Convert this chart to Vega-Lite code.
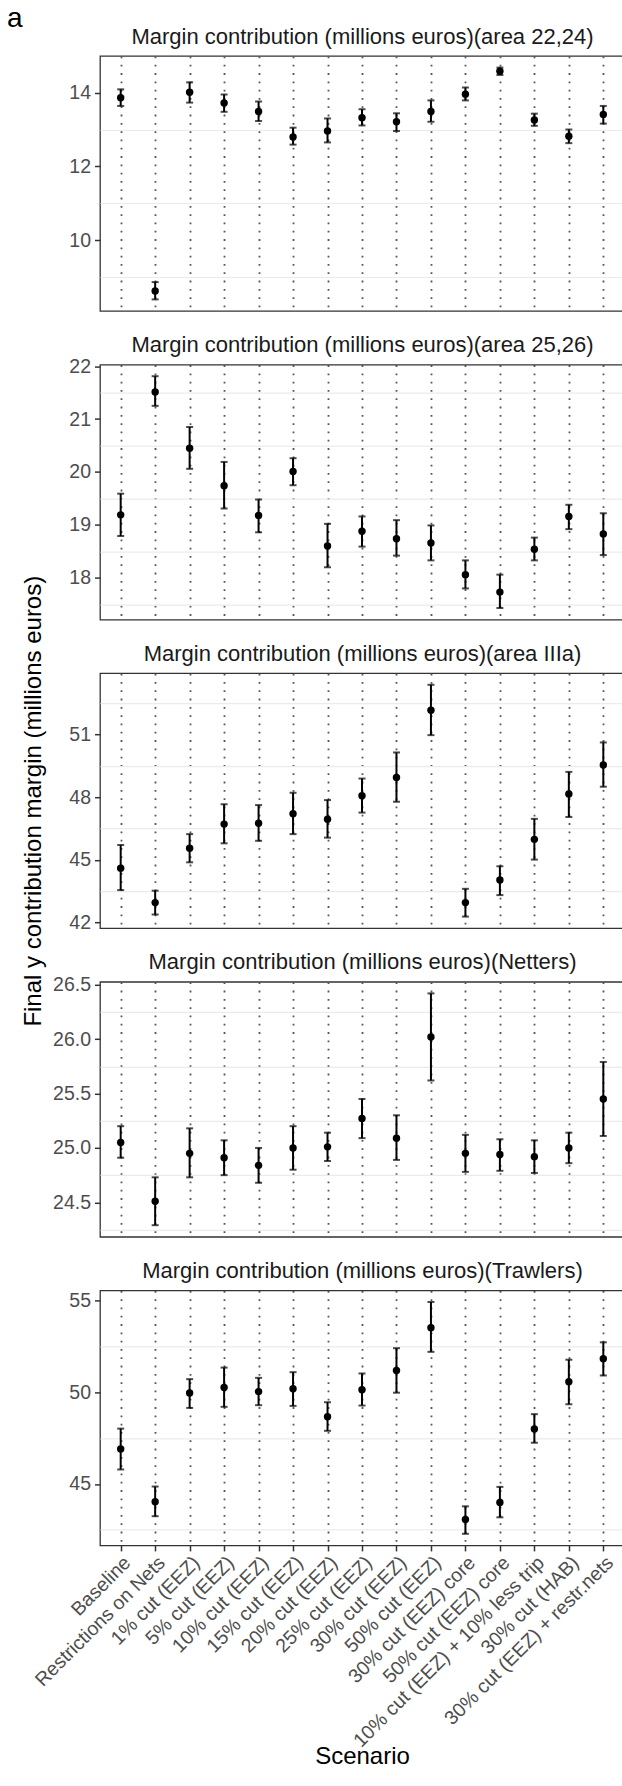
{
  "$schema": "https://vega.github.io/schema/vega-lite/v6.json",
  "padding": {"left": 7, "top": 4, "right": 0, "bottom": 0},
  "bounds": "flush",
  "spacing": 53.6,
  "title": {"text": "a", "anchor": "start", "frame": "bounds", "fontSize": 28, "color": "black", "fontWeight": "normal", "offset": -8.5, "dx": -13.5},
  "config": {
    "font": "Liberation Sans",
    "view": {"stroke": "#333333", "strokeWidth": 1.3},
    "axis": {"labelFont": "Liberation Sans", "labelFontSize": 19.5, "labelColor": "#4d4d4d", "tickColor": "#333333", "tickSize": 5.5, "tickWidth": 1.5, "domain": false, "gridColor": "#555555", "gridDash": [1.8, 6.5], "gridWidth": 1.8, "gridOpacity": 1, "labelPadding": 4, "labelLimit": 400, "titleFont": "Liberation Sans", "titleFontSize": 24, "titleFontWeight": "normal", "titleColor": "black"},
    "axisTop": {"labels": false, "ticks": false, "grid": false, "domain": false, "tickSize": 0, "labelPadding": 0, "titleFontSize": 22, "titleColor": "#1a1a1a", "titlePadding": 8},
    "title": {"font": "Liberation Sans", "fontSize": 22, "fontWeight": "normal", "color": "#1a1a1a"}
  },
  "datasets": {
    "p1": [
      {"scenario": "Baseline", "value": 13.86, "lower": 13.64, "upper": 14.09},
      {"scenario": "Restrictions on Nets", "value": 8.62, "lower": 8.39, "upper": 8.86},
      {"scenario": "1% cut (EEZ)", "value": 14.01, "lower": 13.73, "upper": 14.28},
      {"scenario": "5% cut (EEZ)", "value": 13.72, "lower": 13.48, "upper": 13.95},
      {"scenario": "10% cut (EEZ)", "value": 13.49, "lower": 13.23, "upper": 13.76},
      {"scenario": "15% cut (EEZ)", "value": 12.80, "lower": 12.59, "upper": 13.05},
      {"scenario": "20% cut (EEZ)", "value": 12.96, "lower": 12.65, "upper": 13.30},
      {"scenario": "25% cut (EEZ)", "value": 13.32, "lower": 13.11, "upper": 13.55},
      {"scenario": "30% cut (EEZ)", "value": 13.21, "lower": 12.96, "upper": 13.44},
      {"scenario": "50% cut (EEZ)", "value": 13.49, "lower": 13.21, "upper": 13.79},
      {"scenario": "30% cut (EEZ) core", "value": 13.96, "lower": 13.79, "upper": 14.14},
      {"scenario": "50% cut (EEZ) core", "value": 14.58, "lower": 14.48, "upper": 14.68},
      {"scenario": "10% cut (EEZ) + 10% less trip", "value": 13.26, "lower": 13.10, "upper": 13.43},
      {"scenario": "30% cut (HAB)", "value": 12.82, "lower": 12.63, "upper": 13.00},
      {"scenario": "30% cut (EEZ) + restr.nets", "value": 13.41, "lower": 13.16, "upper": 13.64}
    ],
    "p2": [
      {"scenario": "Baseline", "value": 19.19, "lower": 18.79, "upper": 19.59},
      {"scenario": "Restrictions on Nets", "value": 21.51, "lower": 21.25, "upper": 21.81},
      {"scenario": "1% cut (EEZ)", "value": 20.45, "lower": 20.06, "upper": 20.85},
      {"scenario": "5% cut (EEZ)", "value": 19.74, "lower": 19.31, "upper": 20.19},
      {"scenario": "10% cut (EEZ)", "value": 19.18, "lower": 18.86, "upper": 19.48},
      {"scenario": "15% cut (EEZ)", "value": 20.01, "lower": 19.75, "upper": 20.26},
      {"scenario": "20% cut (EEZ)", "value": 18.60, "lower": 18.20, "upper": 19.02},
      {"scenario": "25% cut (EEZ)", "value": 18.88, "lower": 18.59, "upper": 19.16},
      {"scenario": "30% cut (EEZ)", "value": 18.74, "lower": 18.42, "upper": 19.09},
      {"scenario": "50% cut (EEZ)", "value": 18.66, "lower": 18.33, "upper": 18.99},
      {"scenario": "30% cut (EEZ) core", "value": 18.06, "lower": 17.80, "upper": 18.33},
      {"scenario": "50% cut (EEZ) core", "value": 17.73, "lower": 17.43, "upper": 18.06},
      {"scenario": "10% cut (EEZ) + 10% less trip", "value": 18.54, "lower": 18.33, "upper": 18.76},
      {"scenario": "30% cut (HAB)", "value": 19.16, "lower": 18.92, "upper": 19.38},
      {"scenario": "30% cut (EEZ) + restr.nets", "value": 18.83, "lower": 18.43, "upper": 19.22}
    ],
    "p3": [
      {"scenario": "Baseline", "value": 44.60, "lower": 43.55, "upper": 45.71},
      {"scenario": "Restrictions on Nets", "value": 42.95, "lower": 42.38, "upper": 43.52},
      {"scenario": "1% cut (EEZ)", "value": 45.55, "lower": 44.88, "upper": 46.23},
      {"scenario": "5% cut (EEZ)", "value": 46.71, "lower": 45.79, "upper": 47.66},
      {"scenario": "10% cut (EEZ)", "value": 46.75, "lower": 45.91, "upper": 47.62},
      {"scenario": "15% cut (EEZ)", "value": 47.21, "lower": 46.23, "upper": 48.21},
      {"scenario": "20% cut (EEZ)", "value": 46.94, "lower": 46.06, "upper": 47.86},
      {"scenario": "25% cut (EEZ)", "value": 48.07, "lower": 47.26, "upper": 48.89},
      {"scenario": "30% cut (EEZ)", "value": 48.94, "lower": 47.78, "upper": 50.14},
      {"scenario": "50% cut (EEZ)", "value": 52.16, "lower": 50.97, "upper": 53.38},
      {"scenario": "30% cut (EEZ) core", "value": 42.95, "lower": 42.28, "upper": 43.61},
      {"scenario": "50% cut (EEZ) core", "value": 44.03, "lower": 43.31, "upper": 44.69},
      {"scenario": "10% cut (EEZ) + 10% less trip", "value": 45.98, "lower": 45.01, "upper": 46.96},
      {"scenario": "30% cut (HAB)", "value": 48.15, "lower": 47.05, "upper": 49.21},
      {"scenario": "30% cut (EEZ) + restr.nets", "value": 49.54, "lower": 48.50, "upper": 50.62}
    ],
    "p4": [
      {"scenario": "Baseline", "value": 25.05, "lower": 24.91, "upper": 25.20},
      {"scenario": "Restrictions on Nets", "value": 24.51, "lower": 24.29, "upper": 24.73},
      {"scenario": "1% cut (EEZ)", "value": 24.95, "lower": 24.73, "upper": 25.18},
      {"scenario": "5% cut (EEZ)", "value": 24.91, "lower": 24.75, "upper": 25.07},
      {"scenario": "10% cut (EEZ)", "value": 24.84, "lower": 24.68, "upper": 25.00},
      {"scenario": "15% cut (EEZ)", "value": 25.00, "lower": 24.80, "upper": 25.20},
      {"scenario": "20% cut (EEZ)", "value": 25.01, "lower": 24.88, "upper": 25.14},
      {"scenario": "25% cut (EEZ)", "value": 25.27, "lower": 25.09, "upper": 25.45},
      {"scenario": "30% cut (EEZ)", "value": 25.09, "lower": 24.89, "upper": 25.30},
      {"scenario": "50% cut (EEZ)", "value": 26.02, "lower": 25.62, "upper": 26.42},
      {"scenario": "30% cut (EEZ) core", "value": 24.95, "lower": 24.78, "upper": 25.12},
      {"scenario": "50% cut (EEZ) core", "value": 24.94, "lower": 24.79, "upper": 25.08},
      {"scenario": "10% cut (EEZ) + 10% less trip", "value": 24.92, "lower": 24.77, "upper": 25.07},
      {"scenario": "30% cut (HAB)", "value": 25.00, "lower": 24.86, "upper": 25.14},
      {"scenario": "30% cut (EEZ) + restr.nets", "value": 25.45, "lower": 25.11, "upper": 25.79}
    ],
    "p5": [
      {"scenario": "Baseline", "value": 46.91, "lower": 45.79, "upper": 48.02},
      {"scenario": "Restrictions on Nets", "value": 44.03, "lower": 43.24, "upper": 44.86},
      {"scenario": "1% cut (EEZ)", "value": 49.96, "lower": 49.15, "upper": 50.72},
      {"scenario": "5% cut (EEZ)", "value": 50.27, "lower": 49.21, "upper": 51.35},
      {"scenario": "10% cut (EEZ)", "value": 50.04, "lower": 49.30, "upper": 50.79},
      {"scenario": "15% cut (EEZ)", "value": 50.20, "lower": 49.26, "upper": 51.10},
      {"scenario": "20% cut (EEZ)", "value": 48.67, "lower": 47.90, "upper": 49.46},
      {"scenario": "25% cut (EEZ)", "value": 50.14, "lower": 49.28, "upper": 51.03},
      {"scenario": "30% cut (EEZ)", "value": 51.19, "lower": 49.98, "upper": 52.41},
      {"scenario": "50% cut (EEZ)", "value": 53.53, "lower": 52.21, "upper": 54.93},
      {"scenario": "30% cut (EEZ) core", "value": 43.06, "lower": 42.28, "upper": 43.78},
      {"scenario": "50% cut (EEZ) core", "value": 43.99, "lower": 43.18, "upper": 44.84},
      {"scenario": "10% cut (EEZ) + 10% less trip", "value": 48.00, "lower": 47.25, "upper": 48.81},
      {"scenario": "30% cut (HAB)", "value": 50.58, "lower": 49.35, "upper": 51.78},
      {"scenario": "30% cut (EEZ) + restr.nets", "value": 51.83, "lower": 50.92, "upper": 52.73}
    ]
  },
  "vconcat": [
    {
      "width": 524, "height": 255,
      "data": {"name": "p1"},
      "resolve": {"axis": {"x": "independent", "y": "independent"}},
      "layer": [
        {
          "mark": {"type": "errorbar", "ticks": true, "size": 7, "thickness": 2, "color": "black"},
          "encoding": {
            "x": {"field": "scenario", "type": "nominal", "sort": ["Baseline","Restrictions on Nets","1% cut (EEZ)","5% cut (EEZ)","10% cut (EEZ)","15% cut (EEZ)","20% cut (EEZ)","25% cut (EEZ)","30% cut (EEZ)","50% cut (EEZ)","30% cut (EEZ) core","50% cut (EEZ) core","10% cut (EEZ) + 10% less trip","30% cut (HAB)","30% cut (EEZ) + restr.nets"], "scale": {"type": "point", "padding": 0.6}, "axis": {"orient": "bottom", "title": null, "labels": false, "ticks": false, "grid": true}},
            "y": {"field": "lower", "type": "quantitative", "scale": {"zero": false, "nice": false, "padding": 11.6}, "axis": {"orient": "left", "values": [9, 11, 13], "grid": true, "gridColor": "#ebebeb", "gridDash": [], "gridWidth": 1.2, "ticks": false, "labels": false, "title": null}},
            "y2": {"field": "upper"}
          }
        },
        {
          "mark": {"type": "point", "filled": true, "size": 55, "color": "black", "opacity": 1},
          "encoding": {
            "x": {"field": "scenario", "type": "nominal", "sort": ["Baseline","Restrictions on Nets","1% cut (EEZ)","5% cut (EEZ)","10% cut (EEZ)","15% cut (EEZ)","20% cut (EEZ)","25% cut (EEZ)","30% cut (EEZ)","50% cut (EEZ)","30% cut (EEZ) core","50% cut (EEZ) core","10% cut (EEZ) + 10% less trip","30% cut (HAB)","30% cut (EEZ) + restr.nets"], "axis": {"orient": "top", "title": "Margin contribution (millions euros)(area 22,24)"}},
            "y": {"field": "value", "type": "quantitative", "axis": {"orient": "left", "values": [10, 12, 14], "title": null}}
          }
        }
      ]
    },
    {
      "width": 524, "height": 255,
      "data": {"name": "p2"},
      "resolve": {"axis": {"x": "independent", "y": "independent"}},
      "layer": [
        {
          "mark": {"type": "errorbar", "ticks": true, "size": 7, "thickness": 2, "color": "black"},
          "encoding": {
            "x": {"field": "scenario", "type": "nominal", "sort": ["Baseline","Restrictions on Nets","1% cut (EEZ)","5% cut (EEZ)","10% cut (EEZ)","15% cut (EEZ)","20% cut (EEZ)","25% cut (EEZ)","30% cut (EEZ)","50% cut (EEZ)","30% cut (EEZ) core","50% cut (EEZ) core","10% cut (EEZ) + 10% less trip","30% cut (HAB)","30% cut (EEZ) + restr.nets"], "scale": {"type": "point", "padding": 0.6}, "axis": {"orient": "bottom", "title": null, "labels": false, "ticks": false, "grid": true}},
            "y": {"field": "lower", "type": "quantitative", "scale": {"zero": false, "nice": false, "padding": 11.6}, "axis": {"orient": "left", "values": [17.5, 18.5, 19.5, 20.5, 21.5], "grid": true, "gridColor": "#ebebeb", "gridDash": [], "gridWidth": 1.2, "ticks": false, "labels": false, "title": null}},
            "y2": {"field": "upper"}
          }
        },
        {
          "mark": {"type": "point", "filled": true, "size": 55, "color": "black", "opacity": 1},
          "encoding": {
            "x": {"field": "scenario", "type": "nominal", "sort": ["Baseline","Restrictions on Nets","1% cut (EEZ)","5% cut (EEZ)","10% cut (EEZ)","15% cut (EEZ)","20% cut (EEZ)","25% cut (EEZ)","30% cut (EEZ)","50% cut (EEZ)","30% cut (EEZ) core","50% cut (EEZ) core","10% cut (EEZ) + 10% less trip","30% cut (HAB)","30% cut (EEZ) + restr.nets"], "axis": {"orient": "top", "title": "Margin contribution (millions euros)(area 25,26)"}},
            "y": {"field": "value", "type": "quantitative", "axis": {"orient": "left", "values": [18, 19, 20, 21, 22], "title": null}}
          }
        }
      ]
    },
    {
      "width": 524, "height": 255,
      "data": {"name": "p3"},
      "resolve": {"axis": {"x": "independent", "y": "independent"}},
      "layer": [
        {
          "mark": {"type": "errorbar", "ticks": true, "size": 7, "thickness": 2, "color": "black"},
          "encoding": {
            "x": {"field": "scenario", "type": "nominal", "sort": ["Baseline","Restrictions on Nets","1% cut (EEZ)","5% cut (EEZ)","10% cut (EEZ)","15% cut (EEZ)","20% cut (EEZ)","25% cut (EEZ)","30% cut (EEZ)","50% cut (EEZ)","30% cut (EEZ) core","50% cut (EEZ) core","10% cut (EEZ) + 10% less trip","30% cut (HAB)","30% cut (EEZ) + restr.nets"], "scale": {"type": "point", "padding": 0.6}, "axis": {"orient": "bottom", "title": null, "labels": false, "ticks": false, "grid": true}},
            "y": {"field": "lower", "type": "quantitative", "scale": {"zero": false, "nice": false, "padding": 11.6}, "axis": {"orient": "left", "values": [43.5, 46.5, 49.5, 52.5], "grid": true, "gridColor": "#ebebeb", "gridDash": [], "gridWidth": 1.2, "ticks": false, "labels": false, "title": null}},
            "y2": {"field": "upper"}
          }
        },
        {
          "mark": {"type": "point", "filled": true, "size": 55, "color": "black", "opacity": 1},
          "encoding": {
            "x": {"field": "scenario", "type": "nominal", "sort": ["Baseline","Restrictions on Nets","1% cut (EEZ)","5% cut (EEZ)","10% cut (EEZ)","15% cut (EEZ)","20% cut (EEZ)","25% cut (EEZ)","30% cut (EEZ)","50% cut (EEZ)","30% cut (EEZ) core","50% cut (EEZ) core","10% cut (EEZ) + 10% less trip","30% cut (HAB)","30% cut (EEZ) + restr.nets"], "axis": {"orient": "top", "title": "Margin contribution (millions euros)(area IIIa)"}},
            "y": {"field": "value", "type": "quantitative", "axis": {"orient": "left", "values": [42, 45, 48, 51], "title": "Final y contribution margin (millions euros)", "titlePadding": 23.6}}
          }
        }
      ]
    },
    {
      "width": 524, "height": 255,
      "data": {"name": "p4"},
      "resolve": {"axis": {"x": "independent", "y": "independent"}},
      "layer": [
        {
          "mark": {"type": "errorbar", "ticks": true, "size": 7, "thickness": 2, "color": "black"},
          "encoding": {
            "x": {"field": "scenario", "type": "nominal", "sort": ["Baseline","Restrictions on Nets","1% cut (EEZ)","5% cut (EEZ)","10% cut (EEZ)","15% cut (EEZ)","20% cut (EEZ)","25% cut (EEZ)","30% cut (EEZ)","50% cut (EEZ)","30% cut (EEZ) core","50% cut (EEZ) core","10% cut (EEZ) + 10% less trip","30% cut (HAB)","30% cut (EEZ) + restr.nets"], "scale": {"type": "point", "padding": 0.6}, "axis": {"orient": "bottom", "title": null, "labels": false, "ticks": false, "grid": true}},
            "y": {"field": "lower", "type": "quantitative", "scale": {"zero": false, "nice": false, "padding": 11.6}, "axis": {"orient": "left", "values": [24.25, 24.75, 25.25, 25.75, 26.25], "grid": true, "gridColor": "#ebebeb", "gridDash": [], "gridWidth": 1.2, "ticks": false, "labels": false, "title": null}},
            "y2": {"field": "upper"}
          }
        },
        {
          "mark": {"type": "point", "filled": true, "size": 55, "color": "black", "opacity": 1},
          "encoding": {
            "x": {"field": "scenario", "type": "nominal", "sort": ["Baseline","Restrictions on Nets","1% cut (EEZ)","5% cut (EEZ)","10% cut (EEZ)","15% cut (EEZ)","20% cut (EEZ)","25% cut (EEZ)","30% cut (EEZ)","50% cut (EEZ)","30% cut (EEZ) core","50% cut (EEZ) core","10% cut (EEZ) + 10% less trip","30% cut (HAB)","30% cut (EEZ) + restr.nets"], "axis": {"orient": "top", "title": "Margin contribution (millions euros)(Netters)"}},
            "y": {"field": "value", "type": "quantitative", "axis": {"orient": "left", "values": [24.5, 25, 25.5, 26, 26.5], "format": ".1f", "title": null}}
          }
        }
      ]
    },
    {
      "width": 524, "height": 255,
      "data": {"name": "p5"},
      "resolve": {"axis": {"x": "independent", "y": "independent"}},
      "layer": [
        {
          "mark": {"type": "errorbar", "ticks": true, "size": 7, "thickness": 2, "color": "black"},
          "encoding": {
            "x": {"field": "scenario", "type": "nominal", "sort": ["Baseline","Restrictions on Nets","1% cut (EEZ)","5% cut (EEZ)","10% cut (EEZ)","15% cut (EEZ)","20% cut (EEZ)","25% cut (EEZ)","30% cut (EEZ)","50% cut (EEZ)","30% cut (EEZ) core","50% cut (EEZ) core","10% cut (EEZ) + 10% less trip","30% cut (HAB)","30% cut (EEZ) + restr.nets"], "scale": {"type": "point", "padding": 0.6}, "axis": {"orient": "bottom", "title": "Scenario", "labelAngle": -45, "labelAlign": "right", "labelBaseline": "top", "labelFontSize": 19.5, "labelPadding": 2, "grid": true, "titlePadding": -1}},
            "y": {"field": "lower", "type": "quantitative", "scale": {"zero": false, "nice": false, "padding": 11.6}, "axis": {"orient": "left", "values": [42.5, 47.5, 52.5], "grid": true, "gridColor": "#ebebeb", "gridDash": [], "gridWidth": 1.2, "ticks": false, "labels": false, "title": null}},
            "y2": {"field": "upper"}
          }
        },
        {
          "mark": {"type": "point", "filled": true, "size": 55, "color": "black", "opacity": 1},
          "encoding": {
            "x": {"field": "scenario", "type": "nominal", "sort": ["Baseline","Restrictions on Nets","1% cut (EEZ)","5% cut (EEZ)","10% cut (EEZ)","15% cut (EEZ)","20% cut (EEZ)","25% cut (EEZ)","30% cut (EEZ)","50% cut (EEZ)","30% cut (EEZ) core","50% cut (EEZ) core","10% cut (EEZ) + 10% less trip","30% cut (HAB)","30% cut (EEZ) + restr.nets"], "axis": {"orient": "top", "title": "Margin contribution (millions euros)(Trawlers)"}},
            "y": {"field": "value", "type": "quantitative", "axis": {"orient": "left", "values": [45, 50, 55], "title": null}}
          }
        }
      ]
    }
  ]
}
